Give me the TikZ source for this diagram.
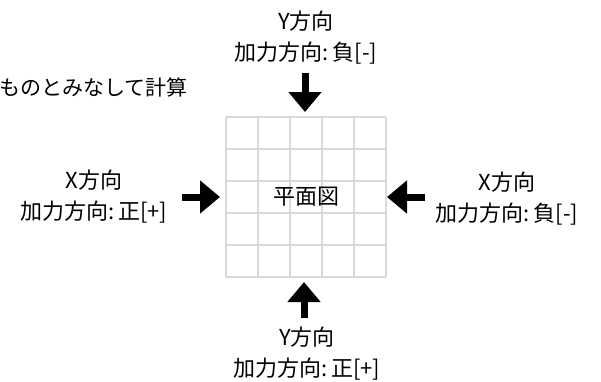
\documentclass[tikz,border=0pt]{standalone}
\usepackage{fontspec}
\setmainfont{Noto Sans CJK JP}
\usetikzlibrary{arrows.meta}

\tikzset{
  lab/.style={align=center, inner sep=0pt, font=\fontsize{22}{31}\selectfont},
  force/.style={line width=7pt, -{Triangle[length=20pt,width=32pt]}},
  gridline/.style={draw=black!15, line width=1.3pt}
}

\begin{document}
\begin{tikzpicture}[x=1pt, y=-1pt]
            \useasboundingbox (0,0) rectangle (601,381);
            % floor plan grid
            \foreach \i in {0,...,5} {
                \draw[gridline] (226+32*\i,117) -- (226+32*\i,277);
                \draw[gridline] (226,117+32*\i) -- (386,117+32*\i);
            }
            \node[lab] (plan) at (306.5,197) {平面図};
            \node[lab, anchor=east, font=\fontsize{21}{31}\selectfont] (note) at (188,87) {ものとみなして計算};
            \node[lab] (ytop) at (306,38) {Y方向\\加力方向:\,負[-]};
            \node[lab] (ybot) at (307,354) {Y方向\\加力方向:\,正[+]};
            \node[lab] (xleft) at (94,197) {X方向\\加力方向:\,正[+]};
            \node[lab] (xright) at (507,199) {X方向\\加力方向:\,負[-]};
            \coordinate (ytopstart) at (305,73);
            \coordinate (ybotstart) at (304,318);
            \coordinate (xleftstart) at (182,197);
            \coordinate (xrightstart) at (425,197);
            \draw[force] (ytopstart) -- (305,112);
            \draw[force] (ybotstart) -- (304,282);
            \draw[force] (xleftstart) -- (220,197);
            \draw[force] (xrightstart) -- (387,197);
        \end{tikzpicture}
\end{document}
